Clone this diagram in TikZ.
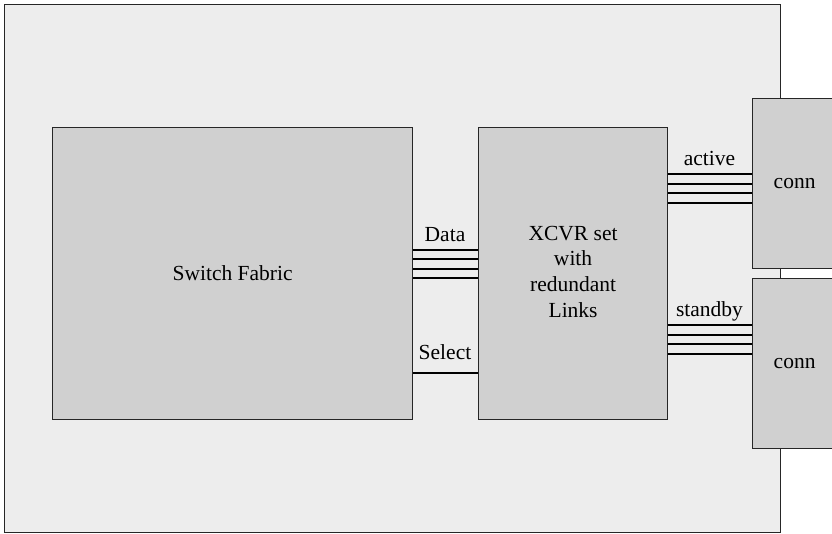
\documentclass[tikz,border=0pt]{standalone}
\usepackage{fontspec}
\setmainfont{Liberation Serif}
\usetikzlibrary{positioning}
\definecolor{boardgrey}{HTML}{EDEDED}
\definecolor{blockgrey}{HTML}{D0D0D0}
\definecolor{edgegrey}{HTML}{262626}
\tikzset{
  block/.style={draw=edgegrey,fill=blockgrey,line width=1.2pt,inner sep=0pt,
    anchor=north west,align=center,font=\fontsize{21.5}{25.7}\selectfont},
  bus/.style={line width=2pt,black},
  buslabel/.style={font=\fontsize{21.5}{25.7}\selectfont,inner sep=0pt,anchor=base},
}
\begin{document}
\begin{tikzpicture}[x=1pt,y=-1pt]
  \useasboundingbox (0,0) rectangle (832,533);
  \clip (0,0) rectangle (832,533);
  % Board
  \node[draw=edgegrey,fill=boardgrey,line width=1.4pt,inner sep=0pt,
    minimum width=776pt,minimum height=528pt,anchor=north west] (board) at (4,4) {};
  % Blocks
  \node[block,minimum width=360pt,minimum height=292pt] (fabric) at (52,127) {Switch Fabric};
  \node[block,minimum width=189pt,minimum height=292pt] (xcvr) at (478,127)
    {\raisebox{3pt}{\begin{tabular}{@{}c@{}}XCVR set\\with\\redundant\\Links\end{tabular}}};
  % Connectors
  \node[block,minimum width=84pt,minimum height=170pt] (connA) at (752,98) {conn};
  \node[block,minimum width=84pt,minimum height=170pt] (connB) at (752,278) {conn};
  % Data bus
  \foreach \y in {249.5,259,268.5,278}
    \draw[bus] (fabric.east |- 0,\y) -- (xcvr.west |- 0,\y);
  \node[buslabel] (datalbl) at (445,241) {Data};
  % Select line
  \draw[bus] (fabric.east |- 0,373) -- (xcvr.west |- 0,373);
  \node[buslabel] (selectlbl) at (445,359) {Select};
  % Active links
  \foreach \y in {174,183.6,193.2,202.8}
    \draw[bus] (xcvr.east |- 0,\y) -- (connA.west |- 0,\y);
  \node[buslabel] (activelbl) at (709.5,165) {active};
  % Standby links
  \foreach \y in {325,334.5,344,353.5}
    \draw[bus] (xcvr.east |- 0,\y) -- (connB.west |- 0,\y);
  \node[buslabel] (standbylbl) at (709.5,316.5) {standby};
\end{tikzpicture}
\end{document}
